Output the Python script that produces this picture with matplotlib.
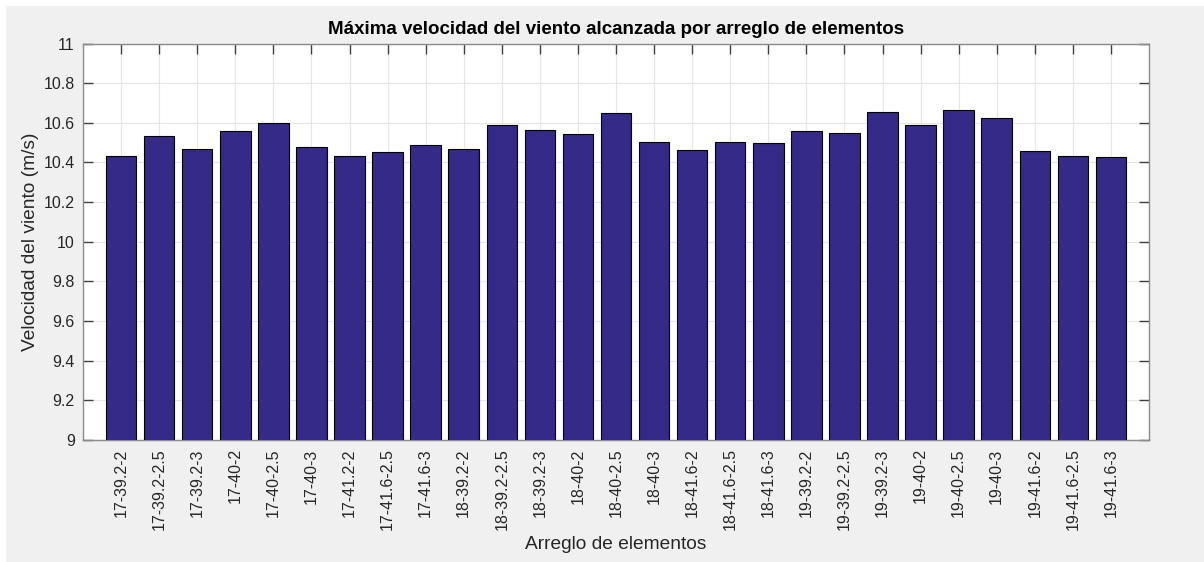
import matplotlib
matplotlib.use("Agg")
import matplotlib.pyplot as plt
from matplotlib.patches import Rectangle
from matplotlib.ticker import FuncFormatter

categories = ["17-39.2-2", "17-39.2-2.5", "17-39.2-3", "17-40-2", "17-40-2.5", "17-40-3",
              "17-41.2-2", "17-41.6-2.5", "17-41.6-3", "18-39.2-2", "18-39.2-2.5", "18-39.2-3",
              "18-40-2", "18-40-2.5", "18-40-3", "18-41.6-2", "18-41.6-2.5", "18-41.6-3",
              "19-39.2-2", "19-39.2-2.5", "19-39.2-3", "19-40-2", "19-40-2.5", "19-40-3",
              "19-41.6-2", "19-41.6-2.5", "19-41.6-3"]
values = [10.432, 10.534, 10.470, 10.559, 10.598, 10.477,
          10.432, 10.452, 10.489, 10.470, 10.588, 10.564,
          10.546, 10.650, 10.504, 10.464, 10.504, 10.496,
          10.559, 10.548, 10.655, 10.590, 10.667, 10.623,
          10.458, 10.432, 10.425]
yticks = [9.0, 9.2, 9.4, 9.6, 9.8, 10.0, 10.2, 10.4, 10.6, 10.8, 11.0]

plt.rcParams['font.family'] = ['Liberation Sans', 'DejaVu Sans']

W, H = 1204, 562
fig = plt.figure(figsize=(W / 100, H / 100), dpi=100, facecolor='white')
fig.patches.append(Rectangle((6 / W, 0), 1 - 6 / W, 1 - 6 / H, transform=fig.transFigure,
                             facecolor='#f0f0f0', edgecolor='none', zorder=-10))

ax = fig.add_axes([83 / W, 1 - 440 / H, (1149 - 83) / W, (440 - 43.5) / H])
ax.set_facecolor('white')

x = list(range(1, len(categories) + 1))
ax.bar(x, values, width=0.8, color='#352a87', edgecolor='black', linewidth=0.8, zorder=3)

ax.set_xlim(0, len(categories) + 1)
ax.set_ylim(9, 11)
ax.set_xticks(x)
ax.set_xticklabels(categories, rotation=90, fontsize=11.5, color='#262626')
ax.set_yticks(yticks)
ax.yaxis.set_major_formatter(FuncFormatter(lambda v, p: f"{v:g}"))
for lab in ax.get_yticklabels():
    lab.set_fontsize(11.5)
    lab.set_color('#262626')

ax.grid(True, color='#e5e5e5', linewidth=0.8, zorder=0)
ax.set_axisbelow(True)
ax.tick_params(axis='both', direction='in', length=7, width=1, color='#404040',
               top=True, right=True, labelsize=11.5, labelcolor='#262626', pad=6)
for s in ax.spines.values():
    s.set_color('#8c8c8c')
    s.set_linewidth(1)

ax.set_title("Máxima velocidad del viento alcanzada por arreglo de elementos",
             fontsize=13.5, fontweight='bold', color='black', pad=7)
ax.set_xlabel("Arreglo de elementos", fontsize=13.75, color='#262626', labelpad=4)
ax.set_ylabel("Velocidad del viento (m/s)", fontsize=13.75, color='#262626', labelpad=3)

fig.savefig("out.png", dpi=100, facecolor=fig.get_facecolor())
